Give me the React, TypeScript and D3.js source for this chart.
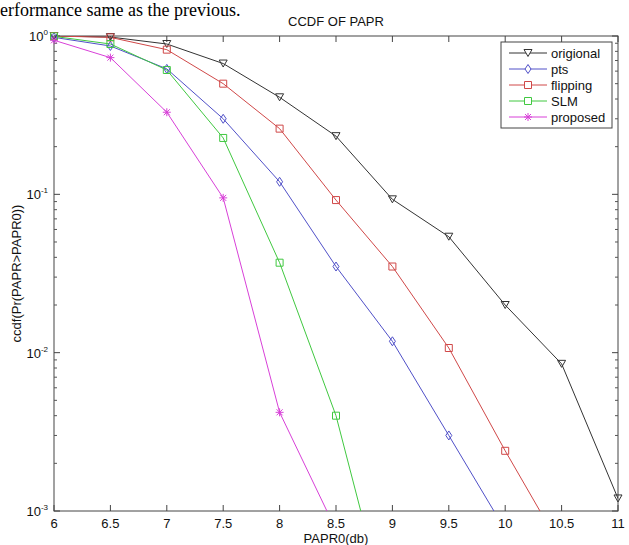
import { useRef, useEffect } from 'react';
import * as d3 from 'd3';

const papr = [6, 6.5, 7, 7.5, 8, 8.5, 9, 9.5, 10, 10.5, 11];

// values; the last point of each short series lies below 1e-3 and gets clipped
const origional = [1.0, 0.985, 0.89, 0.67, 0.41, 0.233, 0.093, 0.054, 0.02, 0.0085, 0.0012];
const pts = [0.98, 0.865, 0.62, 0.3, 0.12, 0.035, 0.0118, 0.003, 0.00076];
const flipping = [1.0, 0.98, 0.82, 0.5, 0.26, 0.092, 0.035, 0.0107, 0.0024, 0.00058];
const slm = [0.995, 0.89, 0.61, 0.227, 0.037, 0.004, 0.00017];
const proposed = [0.94, 0.73, 0.33, 0.095, 0.0042, 0.00076];

const seriesNames = ['origional', 'pts', 'flipping', 'SLM', 'proposed'];
const seriesData = [origional, pts, flipping, slm, proposed];
const seriesColors = ['#333333', '#5050c8', '#d04848', '#40c840', '#d840d8'];
const seriesMarkers = ['triangle', 'diamond', 'square', 'square', 'star'];

const xTicks = [6, 6.5, 7, 7.5, 8, 8.5, 9, 9.5, 10, 10.5, 11];
const yDecades = [0, -1, -2, -3];

const FONT = '"Liberation Sans", Arial, sans-serif';

function markerPath(kind: string) {
  if (kind === 'triangle') return 'M-4,-3.5L4,-3.5L0,3.5Z';
  if (kind === 'diamond') return 'M0,-4.5L3,0L0,4.5L-3,0Z';
  if (kind === 'square') return 'M-3.5,-3.5L3.5,-3.5L3.5,3.5L-3.5,3.5Z';
  return 'M-4,0L4,0M0,-4L0,4M-3,-3L3,3M-3,3L3,-3';
}

export default function App() {
  const svgRef = useRef<SVGSVGElement>(null);

  useEffect(() => {
    const svg = d3.select(svgRef.current);
    svg.selectAll('*').remove();

    const m = { left: 54, right: 11, top: 36, bottom: 34 };
    const w = 629, h = 545;
    const W = w - m.left - m.right;
    const H = h - m.top - m.bottom;

    const x = d3.scaleLinear().domain([6, 11]).range([0, W]);
    const y = d3.scaleLog().domain([1e-3, 1]).range([H, 0]);

    svg.append('rect').attr('width', w).attr('height', h).attr('fill', '#fff');

    // the tail of a sentence from the page above the figure
    svg.append('text').attr('x', 0).attr('y', 16)
      .attr('font-family', '"Liberation Serif", "Times New Roman", serif').attr('font-size', 18)
      .attr('fill', '#000').text('erformance same as the previous.');

    svg.append('defs').append('clipPath').attr('id', 'plotclip')
      .append('rect').attr('width', W).attr('height', H);

    const g = svg.append('g').attr('transform', `translate(${m.left},${m.top})`);

    // axis box
    g.append('rect').attr('width', W).attr('height', H)
      .attr('fill', 'none').attr('stroke', '#444').attr('stroke-width', 1);

    // x ticks, inward on bottom and top
    xTicks.forEach(t => {
      const px = x(t);
      g.append('line').attr('x1', px).attr('x2', px).attr('y1', H).attr('y2', H - 6).attr('stroke', '#444');
      g.append('line').attr('x1', px).attr('x2', px).attr('y1', 0).attr('y2', 6).attr('stroke', '#444');
      g.append('text').attr('x', px).attr('y', H + 17).attr('text-anchor', 'middle')
        .attr('font-family', FONT).attr('font-size', 13).attr('fill', '#111').text(String(t));
    });

    // y ticks: decades plus minor ticks, left and right
    yDecades.forEach(k => {
      const py = y(Math.pow(10, k));
      g.append('line').attr('x1', 0).attr('x2', 6).attr('y1', py).attr('y2', py).attr('stroke', '#444');
      g.append('line').attr('x1', W).attr('x2', W - 6).attr('y1', py).attr('y2', py).attr('stroke', '#444');
      const lab = g.append('text').attr('x', -6).attr('y', py + 5).attr('text-anchor', 'end')
        .attr('font-family', FONT).attr('font-size', 13).attr('fill', '#111');
      lab.append('tspan').text('10');
      lab.append('tspan').attr('dy', -6).attr('font-size', 8).text(String(k));
      if (k > -3) {
        d3.range(2, 10).forEach(j => {
          const my = y(j * Math.pow(10, k - 1));
          g.append('line').attr('x1', 0).attr('x2', 3).attr('y1', my).attr('y2', my).attr('stroke', '#555');
          g.append('line').attr('x1', W).attr('x2', W - 3).attr('y1', my).attr('y2', my).attr('stroke', '#555');
        });
      }
    });

    // curves
    const line = d3.line<number>().x((_, i) => x(papr[i])).y(d => y(d));
    const plot = g.append('g').attr('clip-path', 'url(#plotclip)');
    seriesData.forEach((vals, s) => {
      plot.append('path').attr('d', line(vals)).attr('fill', 'none')
        .attr('stroke', seriesColors[s]).attr('stroke-width', 1);
      vals.forEach((v, i) => {
        if (v < 1e-3) return;
        g.append('path').attr('d', markerPath(seriesMarkers[s]))
          .attr('transform', `translate(${x(papr[i])},${y(v)})`)
          .attr('fill', 'none').attr('stroke', seriesColors[s]).attr('stroke-width', 1);
      });
    });

    // title and axis labels
    svg.append('text').attr('x', m.left + W / 2).attr('y', 26).attr('text-anchor', 'middle')
      .attr('font-family', FONT).attr('font-size', 13).attr('fill', '#111').text('CCDF OF PAPR');
    svg.append('text').attr('x', m.left + W / 2).attr('y', 543).attr('text-anchor', 'middle')
      .attr('font-family', FONT).attr('font-size', 13).attr('fill', '#111').text('PAPR0(db)');
    svg.append('text').attr('text-anchor', 'middle')
      .attr('transform', `translate(21,${m.top + H / 2}) rotate(-90)`)
      .attr('font-family', FONT).attr('font-size', 13).attr('fill', '#111').text('ccdf(Pr(PAPR>PAPR0))');

    // legend
    const leg = svg.append('g').attr('transform', 'translate(501,42)');
    leg.append('rect').attr('width', 111).attr('height', 86)
      .attr('fill', '#fff').attr('stroke', '#444');
    seriesNames.forEach((name, i) => {
      const ly = 11 + i * 16;
      leg.append('line').attr('x1', 8).attr('x2', 46).attr('y1', ly).attr('y2', ly)
        .attr('stroke', seriesColors[i]);
      leg.append('path').attr('d', markerPath(seriesMarkers[i]))
        .attr('transform', `translate(27,${ly})`)
        .attr('fill', seriesMarkers[i] === 'star' ? 'none' : '#fff').attr('stroke', seriesColors[i]);
      leg.append('text').attr('x', 50).attr('y', ly + 4.5)
        .attr('font-family', FONT).attr('font-size', 13).attr('fill', '#111').text(name);
    });
  }, []);

  return (
    <svg ref={svgRef} width={629} height={545}
      style={{ position: 'absolute', left: 0, top: 0, display: 'block' }} />
  );
}
